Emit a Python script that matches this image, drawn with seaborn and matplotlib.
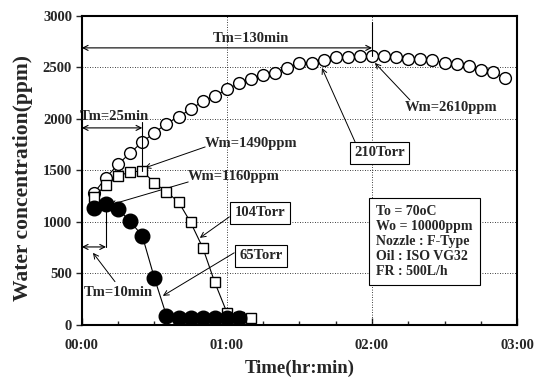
import matplotlib
matplotlib.use("Agg")
import matplotlib.pyplot as plt
import seaborn as sns
import pandas as pd

# ---- data ----
time_210 = [5, 10, 15, 20, 25, 30, 35, 40, 45, 50, 55, 60, 65, 70, 75, 80, 85, 90,
            95, 100, 105, 110, 115, 120, 125, 130, 135, 140, 145, 150, 155, 160,
            165, 170, 175]
water_210 = [1280, 1430, 1560, 1670, 1777, 1864, 1955, 2020, 2095, 2170, 2220,
             2290, 2345, 2385, 2427, 2447, 2495, 2540, 2540, 2570, 2600, 2602,
             2610, 2612, 2610, 2602, 2585, 2582, 2573, 2544, 2534, 2515, 2476,
             2456, 2398]
time_104 = [5, 10, 15, 20, 25, 30, 35, 40, 45, 50, 55, 60, 65, 70]
water_104 = [1243, 1360, 1447, 1485, 1495, 1380, 1291, 1194, 995, 750, 412, 120, 75, 68]
time_65 = [5, 10, 15, 20, 25, 30, 35, 40, 45, 50, 55, 60, 65]
water_65 = [1140, 1170, 1125, 1005, 865, 456, 90, 68, 68, 68, 68, 68, 68]

x_ticks = [0, 60, 120, 180]
x_tick_labels = ["00:00", "01:00", "02:00", "03:00"]
y_ticks = [0, 500, 1000, 1500, 2000, 2500, 3000]

info_lines = ["To = 70oC", "Wo = 10000ppm", "Nozzle : F-Type", "Oil : ISO VG32", "FR : 500L/h"]

# ---- style ----
sns.set_theme(style="ticks")
plt.rcParams["font.family"] = ["Liberation Serif", "DejaVu Serif"]
plt.rcParams["font.weight"] = "bold"

fig = plt.figure(figsize=(5.42, 3.80), dpi=100)
ax = fig.add_axes([0.151, 0.145, 0.803, 0.813])

df210 = pd.DataFrame({"t": time_210, "w": water_210})
df104 = pd.DataFrame({"t": time_104, "w": water_104})
df65 = pd.DataFrame({"t": time_65, "w": water_65})

sns.lineplot(data=df210, x="t", y="w", ax=ax, color="black", lw=0.8,
             marker="o", markersize=8.5, markerfacecolor="white",
             markeredgecolor="black", markeredgewidth=1.0, zorder=3)
sns.lineplot(data=df104, x="t", y="w", ax=ax, color="black", lw=0.8,
             marker="s", markersize=7, markerfacecolor="white",
             markeredgecolor="black", markeredgewidth=1.0, zorder=4)
sns.lineplot(data=df65, x="t", y="w", ax=ax, color="black", lw=0.8,
             marker="o", markersize=10.5, markerfacecolor="black",
             markeredgecolor="black", markeredgewidth=1.0, zorder=5)

ax.set_xlim(0, 180)
ax.set_ylim(0, 3000)
ax.set_xticks(x_ticks)
ax.set_xticklabels(x_tick_labels)
ax.set_xticks([15, 30, 45, 75, 90, 105, 135, 150, 165], minor=True)
ax.set_yticks(y_ticks)
ax.tick_params(axis="x", direction="in", length=5, width=1, labelsize=10.5, pad=10)
ax.tick_params(axis="x", which="minor", direction="in", length=3, width=1)
ax.tick_params(axis="y", direction="out", length=4, width=1, labelsize=10.5, pad=3)
for lab in ax.get_xticklabels() + ax.get_yticklabels():
    lab.set_fontweight("bold")

for sp in ax.spines.values():
    sp.set_visible(True)
    sp.set_color("black")
    sp.set_linewidth(1.5)

for yv in [500, 1000, 1500, 2000, 2500]:
    ax.axhline(yv, color="black", lw=0.6, ls=(0, (1, 2)), zorder=1)
for xv in [60, 120]:
    ax.axvline(xv, color="black", lw=0.6, ls=(0, (1, 2)), zorder=1)

ax.set_xlabel("Time(hr:min)", fontsize=13.5, fontweight="bold", labelpad=6)
ax.set_ylabel("Water concentration(ppm)", fontsize=15.5, fontweight="bold")
ax.yaxis.set_label_coords(-0.113, 0.476)

tkw = dict(fontsize=10.5, fontweight="bold", ha="center", va="center", zorder=6)
akw = dict(arrowstyle="->", lw=0.7, color="black", mutation_scale=9, shrinkA=0, shrinkB=0)
dkw = dict(arrowstyle="<->", lw=0.8, color="black", mutation_scale=9, shrinkA=0, shrinkB=0)

# Tm=130min
ax.text(70, 2780, "Tm=130min", **tkw)
ax.annotate("", xy=(0, 2690), xytext=(120, 2690), arrowprops=dkw)
ax.plot([120, 120], [2612, 2940], color="black", lw=0.8, zorder=6)

# Tm=25min
ax.text(13.5, 2020, "Tm=25min", **tkw)
ax.annotate("", xy=(0, 1913), xytext=(25, 1913), arrowprops=dkw)
ax.plot([25, 25], [1495, 1970], color="black", lw=0.8, zorder=6)

# Tm=10min
ax.text(15, 311, "Tm=10min", **tkw)
ax.annotate("", xy=(0, 757), xytext=(10, 757), arrowprops=dkw)
ax.plot([10, 10], [757, 1130], color="black", lw=0.8, zorder=6)
ax.annotate("", xy=(4.6, 700), xytext=(13.7, 420), arrowprops=akw)

# Wm annotations
ax.text(70, 1757, "Wm=1490ppm", **tkw)
ax.annotate("", xy=(26, 1524), xytext=(51, 1728), arrowprops=akw)
ax.text(63, 1437, "Wm=1160ppm", **tkw)
ax.annotate("", xy=(11.6, 1165), xytext=(44, 1388), arrowprops=akw)
ax.text(152.7, 2107, "Wm=2610ppm", **tkw)
ax.annotate("", xy=(121.2, 2544), xytext=(135.7, 2184), arrowprops=akw)

# Series boxes
bkw = dict(boxstyle="square,pad=0.3", fc="white", ec="black", lw=0.8)
ax.text(73.7, 1087, "104Torr", bbox=bkw, **tkw)
ax.annotate("", xy=(48.8, 845), xytext=(61, 1049), arrowprops=akw)
ax.text(74, 670, "65Torr", bbox=bkw, **tkw)
ax.annotate("", xy=(33.5, 282), xytext=(63, 700), arrowprops=akw)
ax.text(123, 1670, "210Torr", bbox=bkw, **tkw)
ax.annotate("", xy=(99.3, 2495), xytext=(113, 1777), arrowprops=akw)

# info box
ax.text(121.7, 1165, "\n".join(info_lines), fontsize=10, fontweight="bold",
        ha="left", va="top", linespacing=1.2, zorder=6,
        bbox=dict(boxstyle="square,pad=0.5", fc="white", ec="black", lw=0.8))

fig.savefig("out.png", dpi=100)
